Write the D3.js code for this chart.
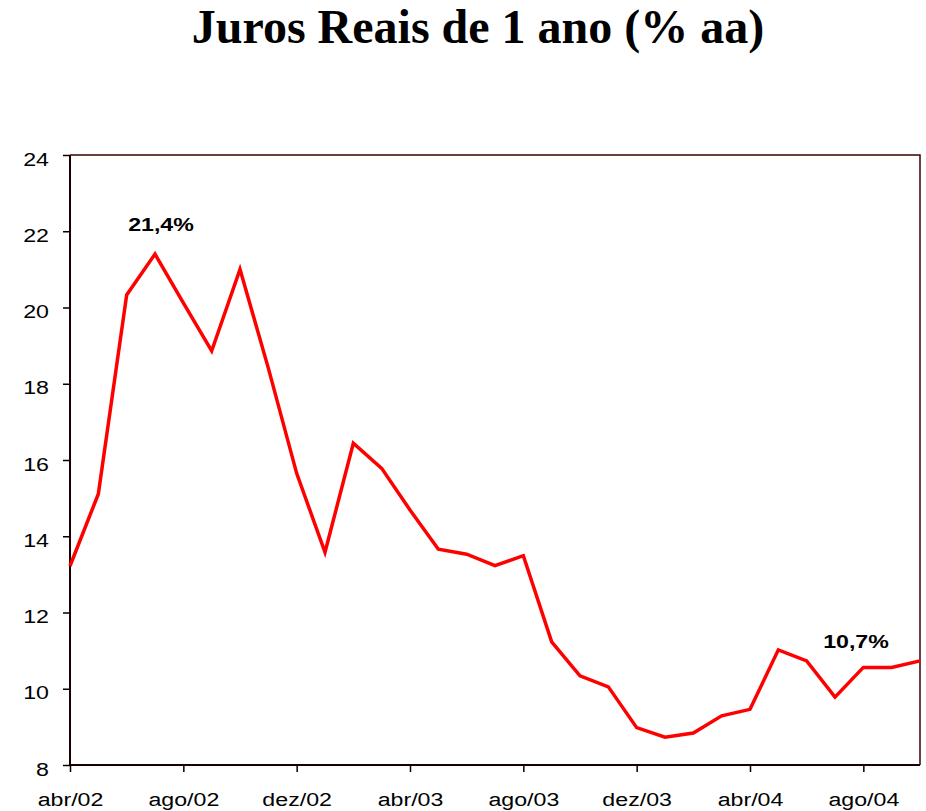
<!DOCTYPE html>
<html>
<head>
<meta charset="utf-8">
<script src="https://cdn.jsdelivr.net/npm/d3@7"></script>
<style>
  body { margin: 0; background: #fff; }
  .chart text { font-family: "Liberation Sans", Arial, sans-serif; }
</style>
</head>
<body>
<div class="chart"></div>
<script>
// monthly data, abr/02 .. out/04
var months = ["abr/02","mai/02","jun/02","jul/02","ago/02","set/02","out/02","nov/02",
  "dez/02","jan/03","fev/03","mar/03","abr/03","mai/03","jun/03","jul/03","ago/03",
  "set/03","out/03","nov/03","dez/03","jan/04","fev/04","mar/04","abr/04","mai/04",
  "jun/04","jul/04","ago/04","set/04","out/04"];
var juros = [13.22, 15.11, 20.33, 21.4, 20.12, 18.86, 21.0, 18.41,
  15.65, 13.58, 16.44, 15.78, 14.69, 13.66, 13.53, 13.23, 13.49,
  11.23, 10.34, 10.05, 8.98, 8.73, 8.84, 9.29, 9.46, 11.02,
  10.73, 9.78, 10.56, 10.56, 10.73];
var yTicks = [8, 10, 12, 14, 16, 18, 20, 22, 24];
var xTickLabels = ["abr/02","ago/02","dez/02","abr/03","ago/03","dez/03","abr/04","ago/04"];
var notes = [{idx: 3, text: "21,4%"}, {idx: 30, text: "10,7%"}];

var svgWidth = 926;
var svgHeight = 811;
var margin = {top: 155, right: 6, bottom: 46, left: 70};
var width = svgWidth - margin.left - margin.right;
var height = svgHeight - margin.top - margin.bottom;
var stretch = 1.22; // the original labels are drawn wide

var svg = d3.select(".chart")
    .append("svg")
    .attr("width", svgWidth)
    .attr("height", svgHeight);

// title
svg.append("text")
    .attr("x", 478)
    .attr("y", 43)
    .attr("text-anchor", "middle")
    .style("font-family", "'Liberation Serif', 'Times New Roman', serif")
    .style("font-weight", "bold")
    .style("font-size", "48px")
    .text("Juros Reais de 1 ano (% aa)");

var chartGroup = svg.append("g")
    .attr("transform", `translate(${margin.left}, ${margin.top})`);

var xScale = d3.scalePoint()
    .domain(months)
    .range([0, width]);

var yScale = d3.scaleLinear()
    .domain([8, 24])
    .range([height, 0]);

// frame (top and right)
chartGroup.append("path")
    .attr("d", `M0,0H${width}V${height}`)
    .attr("fill", "none")
    .attr("stroke", "#3a0000")
    .attr("stroke-width", 1.5);

// axes
var leftAxis = d3.axisLeft(yScale).tickValues(yTicks).tickSize(7);
var bottomAxis = d3.axisBottom(xScale).tickValues(xTickLabels).tickSize(7);

var yAxis = chartGroup.append("g").call(leftAxis);
var xAxis = chartGroup.append("g")
    .attr("transform", `translate(0,${height})`)
    .call(bottomAxis);

[xAxis, yAxis].forEach(function(ax) {
    ax.select(".domain").attr("stroke", "#1a0000").attr("stroke-width", 2);
    ax.selectAll(".tick line").attr("stroke", "#000").attr("stroke-width", 1.5);
    ax.selectAll("text")
        .attr("fill", "#000")
        .attr("transform", `scale(${stretch},1)`)
        .style("font-size", "19px")
        .style("font-family", "'Liberation Sans', Arial, sans-serif");
});
yAxis.select(".domain").attr("d", `M0,${height}V0`);
xAxis.select(".domain").attr("d", `M0,0H${width}`);

yAxis.selectAll("text")
    .attr("x", -21 / stretch)
    .attr("y", 4);
xAxis.selectAll("text")
    .attr("y", 41)
    .attr("dy", 0);

// line
var line = d3.line()
    .x(function(d, i) { return xScale(months[i]); })
    .y(function(d) { return yScale(d); });

chartGroup.append("path")
    .datum(juros)
    .attr("d", line)
    .attr("fill", "none")
    .attr("stroke", "#ff0000")
    .attr("stroke-width", 3.5)
    .attr("stroke-linejoin", "miter");

// value labels
chartGroup.selectAll(".note")
    .data(notes)
    .join("text")
    .classed("note", true)
    .attr("transform", function(d) {
        var x = xScale(months[d.idx]) + (d.idx === 3 ? 6 : -64);
        var y = yScale(juros[d.idx]) - (d.idx === 3 ? 23 : 13);
        return `translate(${x},${y}) scale(${stretch},1)`;
    })
    .attr("text-anchor", "middle")
    .style("font-weight", "bold")
    .style("font-size", "19px")
    .text(function(d) { return d.text; });
</script>
</body>
</html>
